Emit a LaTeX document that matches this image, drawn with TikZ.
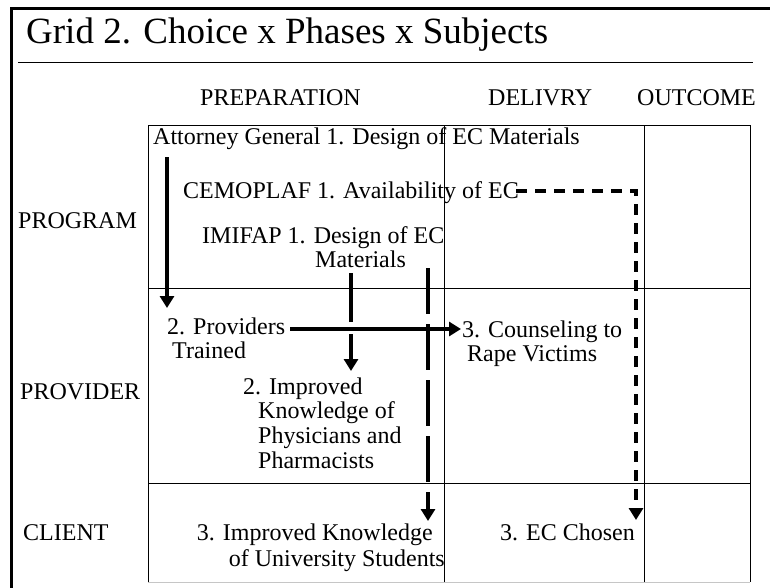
\documentclass[tikz,border=0pt]{standalone}
\usepackage{fontspec}
\setmainfont{Liberation Serif}
\usetikzlibrary{arrows.meta}
\begin{document}
\begin{tikzpicture}[x=1pt,y=-1pt,
  lbl/.style={font=\fontsize{24}{24}\selectfont, inner sep=0pt, anchor=base west},
  lblr/.style={font=\fontsize{24}{24}\selectfont, inner sep=0pt, anchor=base east},
  gridline/.style={line width=1pt},
  framel/.style={line width=3pt},
  solidarr/.style={line width=4.5pt, -{Triangle[width=14pt,length=12pt]}},
  longdash/.style={line width=4.5pt, dash pattern=on 46pt off 10pt, -{Triangle[width=14pt,length=12pt]}},
  shortdash/.style={line width=4.5pt, dash pattern=on 11pt off 8pt, -{Triangle[width=14pt,length=12pt]}}]
\useasboundingbox (0,0) rectangle (770,587);
\fill[white] (0,0) rectangle (770,587);
% frame
\draw[framel] (11,589) -- (11,8) -- (772,8);
\node[font=\fontsize{37}{37}\selectfont, inner sep=0pt, anchor=base west] (title) at (26,43) {Grid 2. Choice x Phases x Subjects};
\draw[line width=1pt] (18,62) -- (753,62);
% headers
\node[lbl] (hprep) at (200,105) {PREPARATION};
\node[lbl] (hdel) at (488,105) {DELIVRY};
\node[lbl] (hout) at (637,105) {OUTCOME};
% grid
\draw[gridline] (148,582) -- (148,125) -- (750,125) -- (750,582);
\draw[gridline, gray!45] (148,582) -- (750,582);
\draw[gridline] (444,125) -- (444,582);
\draw[gridline] (644,125) -- (644,582);
\draw[gridline] (148,288) -- (750,288);
\draw[gridline] (148,483) -- (750,483);
% row labels
\node[lbl] (rprog) at (18,228) {PROGRAM};
\node[lbl] (rprov) at (20,399) {PROVIDER};
\node[lbl] (rcli) at (23,540) {CLIENT};
% texts
\node[lbl] (ag) at (153,144) {Attorney General 1. Design of EC Materials};
\node[lbl] (cem) at (183,198) {CEMOPLAF 1. Availability of EC};
\node[lbl] (imi) at (202,243) {IMIFAP 1. Design of EC};
\node[lbl] (imi2) at (315,267) {Materials};
\node[lbl] (prov) at (167,334) {2. Providers};
\node[lbl] (prov2) at (172,358) {Trained};
\node[lbl] (couns) at (462,337) {3. Counseling to};
\node[lbl] (couns2) at (467,361) {Rape Victims};
\node[lbl] (impk) at (243,394) {2. Improved};
\node[lbl] (impk2) at (258,418) {Knowledge of};
\node[lbl] (impk3) at (258,443) {Physicians and};
\node[lbl] (impk4) at (258,468) {Pharmacists};
\node[lblr] (stud) at (433,540) {3. Improved Knowledge};
\node[lblr] (stud2) at (445,566) {of University Students};
\node[lbl] (chosen) at (500,540) {3. EC Chosen};
% connector end points
\coordinate (a1) at (167,157);
\coordinate (a2) at (167,308);
\coordinate (b1) at (351,273);
\coordinate (bg1) at (351,322);
\coordinate (bg2) at (351,334);
\coordinate (b2) at (351,371);
\coordinate (c1) at (428,268);
\coordinate (c2) at (428,521);
\coordinate (d1) at (516,191);
\coordinate (dc) at (636,191);
\coordinate (d2) at (636,520);
\coordinate (e1) at (290,329);
\coordinate (e2) at (461,329);
% connectors
\draw[solidarr] (a1) -- (a2);
\draw[solidarr] (b1) -- (bg1) (bg2) -- (b2);
\draw[solidarr] (e1) -- (e2);
\draw[longdash] (c1) -- (c2);
\draw[shortdash] (d1) -- (dc) -- (d2);
\end{tikzpicture}
\end{document}
